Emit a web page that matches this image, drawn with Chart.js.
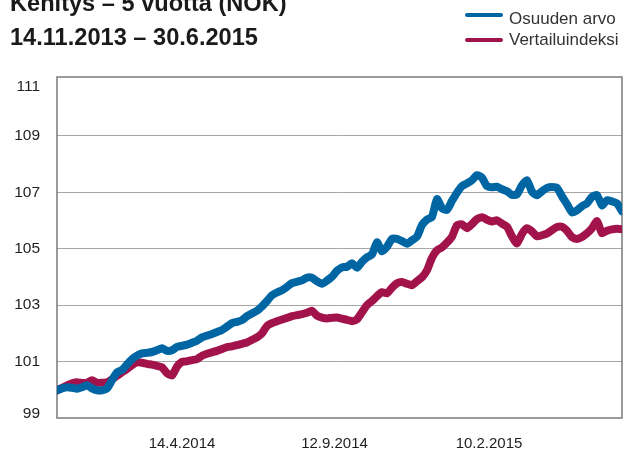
<!DOCTYPE html>
<html>
<head>
<meta charset="utf-8">
<script src="https://cdn.jsdelivr.net/npm/chart.js@4/dist/chart.umd.min.js"></script>
<style>
  html, body { margin: 0; padding: 0; background: #ffffff; }
  #wrap { position: relative; width: 624px; height: 453px; overflow: hidden; }
  #title { position: absolute; left: 10px; top: -14px; font-family: "Liberation Sans", Arial, sans-serif;
           font-weight: bold; font-size: 23.6px; line-height: 34px; color: #1a1a1a; white-space: nowrap; }
  .lg-line { position: absolute; left: 465px; width: 38px; height: 4px; border-radius: 2px; }
  .lg-text { position: absolute; left: 509px; font-family: "Liberation Sans", Arial, sans-serif;
             font-size: 17px; line-height: 20px; color: #333333; white-space: nowrap; }
  canvas { position: absolute; left: 0; top: 0; }
</style>
</head>
<body>
<div id="wrap">
  <canvas id="c" width="624" height="453"></canvas>
  <div id="title">Kehitys – 5 vuotta (NOK)<br>14.11.2013 – 30.6.2015</div>
  <div class="lg-line" style="top:13px;background:#0066a3"></div>
  <div class="lg-text" style="top:9px">Osuuden arvo</div>
  <div class="lg-line" style="top:37.5px;background:#a3134b"></div>
  <div class="lg-text" style="top:29.5px">Vertailuindeksi</div>
</div>
<script>
// ---- Data ----
const seriesNames = ['Osuuden arvo', 'Vertailuindeksi'];
const xTickLabels = ['14.4.2014', '12.9.2014', '10.2.2015'];
const xTickPositions = [25, 55.5, 86.4];
const yTickValues = [99, 101, 103, 105, 107, 109, 111];

const osuudenArvo = [
  99.98, 100.05, 100.09, 100.07, 100.04, 100.09, 100.16, 100.05, 99.98, 99.98,
  100.05, 100.34, 100.62, 100.70, 100.90, 101.08, 101.21, 101.29, 101.31, 101.34,
  101.40, 101.47, 101.38, 101.40, 101.52, 101.56, 101.60, 101.67, 101.74, 101.86,
  101.92, 101.98, 102.05, 102.12, 102.24, 102.36, 102.41, 102.47, 102.61, 102.71,
  102.80, 102.96, 103.15, 103.35, 103.45, 103.53, 103.65, 103.78, 103.83, 103.88,
  103.98, 103.97, 103.85, 103.76, 103.87, 104.01, 104.22, 104.34, 104.36, 104.49,
  104.33, 104.54, 104.70, 104.80, 105.23, 104.91, 105.07, 105.35, 105.35, 105.27,
  105.18, 105.30, 105.43, 105.84, 106.03, 106.13, 106.76, 106.44, 106.38, 106.70,
  106.99, 107.22, 107.32, 107.43, 107.61, 107.52, 107.22, 107.18, 107.20, 107.11,
  107.04, 106.91, 106.93, 107.25, 107.43, 107.02, 106.90, 107.04, 107.16, 107.19,
  107.16, 106.86, 106.58, 106.29, 106.36, 106.51, 106.61, 106.84, 106.90, 106.54,
  106.72, 106.68, 106.61, 106.33
];

const vertailuindeksi = [
  99.98, 100.07, 100.16, 100.23, 100.27, 100.24, 100.25, 100.34, 100.25, 100.25,
  100.27, 100.37, 100.50, 100.62, 100.74, 100.87, 100.98, 100.96, 100.92, 100.89,
  100.85, 100.80, 100.59, 100.51, 100.82, 100.99, 101.01, 101.05, 101.09, 101.21,
  101.28, 101.33, 101.38, 101.45, 101.51, 101.54, 101.58, 101.63, 101.68, 101.77,
  101.86, 102.00, 102.26, 102.36, 102.43, 102.49, 102.55, 102.61, 102.65, 102.68,
  102.73, 102.80, 102.63, 102.56, 102.53, 102.55, 102.56, 102.52, 102.48, 102.43,
  102.50, 102.75, 103.00, 103.15, 103.32, 103.46, 103.42, 103.62, 103.78, 103.82,
  103.76, 103.71, 103.85, 103.99, 104.24, 104.68, 104.95, 105.05, 105.22, 105.43,
  105.83, 105.87, 105.73, 105.88, 106.05, 106.12, 106.03, 105.97, 106.01, 105.89,
  105.78, 105.44, 105.19, 105.53, 105.73, 105.62, 105.44, 105.48, 105.54, 105.66,
  105.77, 105.78, 105.64, 105.41, 105.35, 105.42, 105.55, 105.73, 105.98, 105.55,
  105.64, 105.69, 105.71, 105.69
];

// ---- Build chart ----
const toPoints = arr => arr.map((v, i) => ({ x: i, y: v }));
const FONT = '"Liberation Sans", Arial, sans-serif';

const framePlugin = {
  id: 'frame',
  beforeDatasetsDraw(chart) {
    const { ctx, chartArea: a } = chart;
    ctx.save();
    ctx.strokeStyle = '#7a7a7a';
    ctx.lineWidth = 1.5;
    ctx.strokeRect(a.left, a.top, a.right - a.left, a.bottom - a.top);
    ctx.restore();
  }
};

new Chart(document.getElementById('c'), {
  type: 'line',
  data: {
    datasets: [
      {
        label: seriesNames[0],
        data: toPoints(osuudenArvo),
        borderColor: '#0066a3',
        backgroundColor: '#0066a3',
        borderWidth: 8,
        borderCapStyle: 'round',
        borderJoinStyle: 'round',
        pointRadius: 0,
        tension: 0.2
      },
      {
        label: seriesNames[1],
        data: toPoints(vertailuindeksi),
        borderColor: '#a3134b',
        backgroundColor: '#a3134b',
        borderWidth: 8,
        borderCapStyle: 'round',
        borderJoinStyle: 'round',
        pointRadius: 0,
        tension: 0.2
      }
    ]
  },
  options: {
    responsive: false,
    animation: false,
    devicePixelRatio: 1,
    layout: { padding: { top: 77, right: 2, left: 0, bottom: 0 } },
    plugins: { legend: { display: false }, tooltip: { enabled: false }, title: { display: false } },
    scales: {
      x: {
        type: 'linear',
        min: 0,
        max: osuudenArvo.length - 1,
        border: { display: false },
        grid: { display: false, drawTicks: false },
        afterBuildTicks: s => { s.ticks = xTickPositions.map(v => ({ value: v })); },
        afterFit: s => { s.height = 35; },
        ticks: {
          autoSkip: false,
          maxRotation: 0,
          padding: 17,
          color: '#1e1e1e',
          font: { family: FONT, size: 15 },
          callback: (v) => {
            const i = xTickPositions.indexOf(v);
            return i >= 0 ? xTickLabels[i] : '';
          }
        }
      },
      y: {
        min: 99,
        max: 111.09,
        border: { display: false },
        afterBuildTicks: s => { s.ticks = yTickValues.map(v => ({ value: v })); },
        afterFit: s => { s.width = 57; },
        grid: {
          drawTicks: false,
          lineWidth: 1,
          color: c => (c.tick && (c.tick.value === 99 || c.tick.value === 111)) ? 'rgba(0,0,0,0)' : '#a6a6a6'
        },
        ticks: {
          padding: 17,
          color: '#1e1e1e',
          font: c => {
            const v = c.tick ? c.tick.value : null;
            return { family: FONT, size: 15.5, lineHeight: v === 111 ? '15px' : (v === 99 ? '9.4px' : '18px') };
          },
          callback: v => v === 111 ? ['', '111'] : (v === 99 ? ['99', ''] : String(v))
        }
      }
    }
  },
  plugins: [framePlugin]
});
</script>
</body>
</html>
